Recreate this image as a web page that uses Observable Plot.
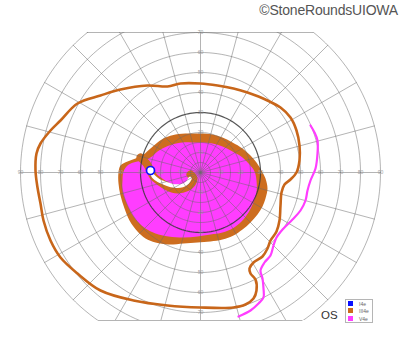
<!DOCTYPE html>
<html><head><meta charset="utf-8">
<script src="https://cdn.jsdelivr.net/npm/d3@7"></script>
<script src="https://cdn.jsdelivr.net/npm/@observablehq/plot@0.6"></script>
<style>
body{margin:0;background:#fff;}
#wrap{position:relative;width:400px;height:352px;font-family:"Liberation Sans",Arial,sans-serif;overflow:hidden;}
#wrap svg{position:absolute;left:0;top:0;}
.copy{position:absolute;right:2px;top:2px;font-size:14px;color:#555;letter-spacing:-0.2px;white-space:nowrap;}
.os{position:absolute;left:321px;top:309px;font-size:11.5px;color:#333;}
.legend{position:absolute;left:345px;top:299px;width:26px;height:22px;border:1px solid #b5b5b5;background:#fff;}
.legend .row{position:absolute;left:2px;height:6px;font-size:5px;line-height:6px;color:#666;}
.legend .sw{display:inline-block;width:5px;height:5px;vertical-align:top;margin-right:6px;}
</style>
</head><body>
<div id="wrap"></div>
<script>
// ---- chart values (degrees of visual field, x: left-/right+, y: down-/up+) ----
const ringDegrees = [5, 10, 15, 20, 25, 30, 40, 50, 60, 70, 80, 90];
const meridianStep = 15;
const axisLabelDegrees = [10, 20, 30, 40, 50, 60, 70, 80, 90];
const fieldTop = 70;      // chart form cut-off above
const fieldBottom = -74;  // chart form cut-off below
const fieldEdge = 90;

const legendNames = ["I4e", "III4e", "V4e"];
const legendColors = ["#0a10ff", "#cc6a1c", "#ff3dff"];

// III4e peripheral isopter (closed)
const iii4eOuter = [
  [0,44.5],[8.5,43.5],[16.5,42],[23.5,40],[29,38],[33.5,36],[40,32.5],[45,27.5],[48,21],[49.5,13.5],
  [49.5,6],[48,0],[45,-3.5],[42,-6],[40.5,-10],[40,-16.5],[39.5,-24],[38,-29.5],[35,-34],[33.5,-38],
  [31,-42],[26.5,-45],[24.5,-48],[25,-50.5],[27.5,-53.5],[28,-59],[26.5,-63],[22.5,-66],[16.5,-67.5],
  [0,-67.5],[-16.5,-66.5],[-33.5,-64],[-50,-59],[-61.5,-50.5],[-70,-42.5],[-75,-34],[-78.5,-24],
  [-80,-15.5],[-81.5,-7.5],[-82.5,1],[-82,9.5],[-80,14.5],[-75,21],[-70,26],[-61.5,34.5],[-50,38.5],
  [-40,41.5],[-26.5,43.5],[-16.5,43],[-10,44.5]
];
// V4e temporal isopter (open)
const v4eOuter = [
  [55,23.5],[57,20],[58.5,16],[58.5,9.5],[57.5,2],[55,-4],[53.5,-9],[52.5,-14],[50,-19],[46,-23.5],
  [41.5,-28],[38,-32.5],[36.5,-36.5],[35,-41.5],[32,-45],[30,-49],[31,-53],[31.5,-58],[31.5,-62.5],
  [29,-65.5],[25,-69],[19,-72]
];
// III4e central area (filled)
const iii4eCentral = [
  [-41,0],[-40,3.5],[-36.5,5.5],[-32.5,7],[-28.5,9],[-25,12],[-21.5,15],[-17.5,17.5],[-12.5,19],[-6,19.5],
  [0,19.5],[6,19],[11,17.5],[16,15],[21,12],[25,8.5],[28,5],[30.5,1],[32.5,-3],[33.5,-8],[32.5,-13],
  [31,-17],[28.5,-21],[25,-25],[21,-28.5],[16.5,-31.5],[11,-33.5],[5,-34.5],[-1.5,-35],[-8.5,-35.5],
  [-16,-36],[-22.5,-35],[-27.5,-33],[-31.5,-29.5],[-35.5,-24],[-38,-18],[-40,-11.5],[-41,-5.5]
];
// V4e central area (filled)
const v4eCentral = [
  [0,15],[6,14.5],[11,13],[16,10.5],[21,7.5],[24.5,4],[27,0.5],[28,-4],[28,-10],[26.5,-15],[24,-20],
  [20.5,-24.5],[16,-28],[11,-30],[5,-31],[-1.5,-32],[-8.5,-32.5],[-16,-32],[-22.5,-30.5],[-27.5,-28],
  [-31.5,-24.5],[-35,-19.5],[-37.5,-14],[-39,-9],[-39,-4],[-38.5,0.5],[-36.5,3.5],[-33.5,5],[-29.5,6],
  [-25,7.5],[-21.5,10.5],[-18,12.5],[-14,14],[-9,15],[-4.5,15]
];
// III4e-only band around the arcuate scotoma
const iii4eScotomaBand = [
  [-30,7.5],[-27,4.5],[-25,1],[-23.5,-2],[-20.5,-4.5],[-16.5,-7],[-11.5,-8.5],[-7,-7.5],[-4.5,-5.5],[-3.5,-3],[-5,-1]
];
// absolute arcuate scotoma
const scotoma = [
  [-25,0.5],[-23.5,-2],[-21,-4],[-17.5,-5.5],[-13,-6.75],[-9,-6.5],[-6.5,-5],[-5.25,-3]
];
// I4e isopter
const i4eSpot = [[-25, 1]];

// ---- grid geometry built from the ring / meridian values ----
const rad = Math.PI / 180;
const ringRows = [];
for (const r of ringDegrees) {
  for (let t = 0; t <= 360; t += 2) ringRows.push({r, x: r * Math.cos(t * rad), y: r * Math.sin(t * rad)});
}
const meridianRows = [];
for (let a = 0; a < 360; a += meridianStep) {
  meridianRows.push({a, x: 0, y: 0});
  meridianRows.push({a, x: fieldEdge * Math.cos(a * rad), y: fieldEdge * Math.sin(a * rad)});
}
const cutRows = [fieldTop, fieldBottom].map(y => ({y, w: Math.sqrt(fieldEdge * fieldEdge - y * y)}));
const labelRows = [];
for (const v of axisLabelDegrees) {
  labelRows.push({x: -v, y: 0, t: v}, {x: v, y: 0, t: v});
  if (v <= fieldTop) labelRows.push({x: 0, y: v, t: v});
  if (v <= -fieldBottom) labelRows.push({x: 0, y: -v, t: v});
}

const X = d => d[0], Y = d => d[1];
const orange = legendColors[1], magenta = legendColors[2], blue = legendColors[0];

const chart = Plot.plot({
  width: 400, height: 352,
  marginLeft: 18, marginRight: 18, marginTop: 32, marginBottom: 32,
  x: {domain: [-91, 91], axis: null},
  y: {domain: [fieldBottom, fieldTop], axis: null},
  style: {background: "transparent"},
  marks: [
    Plot.line(iii4eCentral, {x: X, y: Y, curve: "catmull-rom-closed", fill: "#cd6d1f", stroke: "none"}),
    Plot.line(v4eCentral, {x: X, y: Y, curve: "catmull-rom-closed", fill: magenta, stroke: "none"}),
    Plot.line(iii4eScotomaBand, {x: X, y: Y, curve: "catmull-rom", stroke: "#cd6d1f", strokeWidth: 8}),
    Plot.line(scotoma, {x: X, y: Y, curve: "catmull-rom", stroke: "#fff", strokeWidth: 3.6}),
    Plot.line(ringRows.filter(d => d.r !== 30), {x: "x", y: "y", z: "r", stroke: "#6a6a6a", strokeOpacity: 0.5, strokeWidth: 1, clip: true}),
    Plot.line(meridianRows, {x: "x", y: "y", z: "a", stroke: "#6a6a6a", strokeOpacity: 0.5, strokeWidth: 1, clip: true}),
    Plot.ruleY(cutRows, {y: "y", x1: d => -d.w, x2: d => d.w, stroke: "#6a6a6a", strokeOpacity: 0.5, strokeWidth: 1}),
    Plot.line(ringRows.filter(d => d.r === 30), {x: "x", y: "y", stroke: "#3a3a3a", strokeOpacity: 0.85, strokeWidth: 1.2}),
    Plot.text(labelRows, {x: "x", y: "y", text: "t", fontSize: 5, fill: "#9a9a9a"}),
    Plot.line(iii4eOuter, {x: X, y: Y, curve: "catmull-rom-closed", stroke: "#c8661a", strokeWidth: 2.6}),
    Plot.line(v4eOuter, {x: X, y: Y, curve: "catmull-rom", stroke: magenta, strokeWidth: 2.2}),
    Plot.dot(i4eSpot, {x: X, y: Y, r: 4, stroke: blue, strokeWidth: 1.7, fill: "#fff"})
  ]
});

const wrap = document.getElementById("wrap");
wrap.appendChild(chart);

const copy = document.createElement("div");
copy.className = "copy";
copy.textContent = "©StoneRoundsUIOWA";
wrap.appendChild(copy);

const os = document.createElement("div");
os.className = "os";
os.textContent = "OS";
wrap.appendChild(os);

const legend = document.createElement("div");
legend.className = "legend";
legendNames.forEach((name, i) => {
  const row = document.createElement("div");
  row.className = "row";
  row.style.top = (1 + i * 7.3) + "px";
  const sw = document.createElement("span");
  sw.className = "sw";
  sw.style.background = legendColors[i];
  row.appendChild(sw);
  row.appendChild(document.createTextNode(name));
  legend.appendChild(row);
});
wrap.appendChild(legend);
</script>
</body></html>
